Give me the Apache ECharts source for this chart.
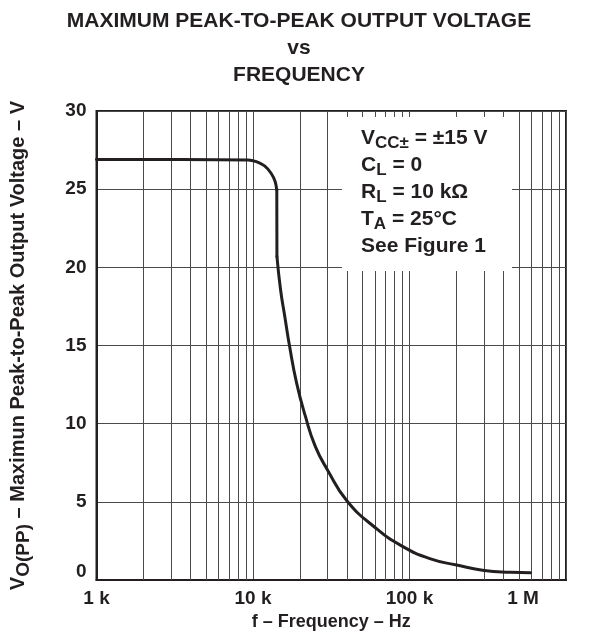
<!DOCTYPE html>
<html>
<head>
<meta charset="utf-8">
<script src="https://cdn.jsdelivr.net/npm/echarts@6/dist/echarts.min.js"></script>
<style>html,body{margin:0;padding:0;background:#fff}#c{width:598px;height:636px}</style>
</head>
<body>
<div id="c"></div>
<script>
// Data
// flat region and rounded knee
var kneeFreqHz = [1000, 9300, 10500, 11860, 13050, 13850, 14190];
var kneeVoltsPP = [26.9, 26.87, 26.76, 26.49, 26.02, 25.49, 24.96];
// vertical drop
var dropFreqHz = [14190, 14220];
var dropVoltsPP = [24.96, 20.7];
// slew-limited roll-off
var fallFreqHz = [14220, 15000, 16000, 17100, 19000, 21650, 25000, 29800, 39900, 60000, 89000, 138000, 200000, 300000, 442000, 592000];
var fallVoltsPP = [20.7, 18.57, 16.8, 15.0, 12.6, 10.45, 8.55, 7.08, 5.06, 3.38, 2.19, 1.34, 0.97, 0.62, 0.5, 0.47];
var xMajorLabels = {1000: '1 k', 10000: '10 k', 100000: '100 k', 1000000: '1 M'};
var xMinorTicks = [2000,3000,4000,5000,6000,7000,8000,9000,
                   20000,30000,40000,50000,60000,70000,80000,90000,
                   200000,300000,400000,500000,600000,700000,800000,900000];
var yTicks = [0, 5, 10, 15, 20, 25, 30];

var FONT = '"Liberation Sans", Arial, Helvetica, sans-serif';
var INK = '#231f20';
var GRID = '#4a4a4a';

var chart = echarts.init(document.getElementById('c'), null, {renderer: 'canvas'});
function pairs(xs, ys) { return xs.map(function (x, i) { return [x, ys[i]]; }); }
function curveSeries(xs, ys, smooth) {
  return {
    type: 'line', data: pairs(xs, ys), showSymbol: false, symbol: 'none', z: 5,
    lineStyle: {color: INK, width: 3, cap: 'round', join: 'round'}, smooth: smooth
  };
}

chart.setOption({
  animation: false,
  backgroundColor: '#fff',
  title: {
    text: 'MAXIMUM PEAK-TO-PEAK OUTPUT VOLTAGE\nvs\nFREQUENCY',
    left: 'center',
    top: 3,
    textStyle: {fontFamily: FONT, fontWeight: 'bold', fontSize: 21, lineHeight: 27, color: INK, align: 'center'}
  },
  grid: {left: 92, right: 32, top: 111, bottom: 55, show: true, borderColor: INK, borderWidth: 2},
  xAxis: {
    type: 'log', logBase: 10, min: 1000, max: 1000000,
    name: 'f – Frequency – Hz', nameLocation: 'middle', nameGap: 30,
    nameTextStyle: {fontFamily: FONT, fontWeight: 'bold', fontSize: 18, color: INK},
    axisLine: {show: true, lineStyle: {color: INK, width: 2}},
    axisTick: {show: false},
    splitLine: {show: true, lineStyle: {color: GRID, width: 1}},
    axisLabel: {
      margin: 9, fontFamily: FONT, fontWeight: 'bold', fontSize: 19, color: INK,
      showMinLabel: true, showMaxLabel: true,
      formatter: function (v) {
        var t = xMajorLabels[Math.round(v)];
        if (!t) return '';
        return Math.round(v) === 1000000 ? '{m|' + t + '}' : t;
      },
      rich: {m: {fontFamily: FONT, fontWeight: 'bold', fontSize: 19, color: INK, padding: [0, 86, 0, 0]}}
    }
  },
  yAxis: {
    type: 'value', min: yTicks[0], max: yTicks[yTicks.length - 1], interval: 5,
    name: 'V{s|O(PP)} – Maximun Peak-to-Peak Output Voltage – V',
    nameLocation: 'middle', nameGap: 63,
    nameTextStyle: {
      fontFamily: FONT, fontWeight: 'bold', fontSize: 20, color: INK,
      rich: {s: {fontFamily: FONT, fontWeight: 'bold', fontSize: 19, color: INK, padding: [12, 0, 0, 0]}}
    },
    axisLine: {show: true, lineStyle: {color: INK, width: 2}},
    axisTick: {show: false},
    splitLine: {show: true, lineStyle: {color: GRID, width: 1}},
    axisLabel: {
      margin: 10, fontFamily: FONT, fontWeight: 'bold', fontSize: 19, color: INK,
      formatter: function (v) { return v === 0 ? '{z|0}' : String(v); },
      rich: {z: {fontFamily: FONT, fontWeight: 'bold', fontSize: 19, color: INK, padding: [0, 0, 16, 0]}}
    }
  },
  series: [
    {
      type: 'line', data: [], silent: true, z: 1,
      markLine: {
        silent: true, symbol: ['none', 'none'], label: {show: false},
        lineStyle: {color: GRID, width: 1, type: 'solid'},
        data: xMinorTicks.map(function (f) { return {xAxis: f}; })
      }
    },
    curveSeries(kneeFreqHz, kneeVoltsPP, 0.3),
    curveSeries(dropFreqHz, dropVoltsPP, false),
    curveSeries(fallFreqHz, fallVoltsPP, 0.5)
  ],
  graphic: [
    {type: 'rect', left: 342, top: 117, z: 100, shape: {width: 170, height: 154}, style: {fill: '#fff'}},
    {
      type: 'text', left: 361, top: 124, z: 101,
      style: {
        text: 'V{s|CC±} = ±15 V\nC{s|L} = 0\nR{s|L} = 10 kΩ\nT{s|A} = 25°C\nSee Figure 1',
        font: 'bold 21px ' + FONT, fill: INK, lineHeight: 27,
        rich: {s: {font: 'bold 17px ' + FONT, fill: INK, padding: [11, 0, 0, 0], lineHeight: 27}}
      }
    }
  ]
});
</script>
</body>
</html>
